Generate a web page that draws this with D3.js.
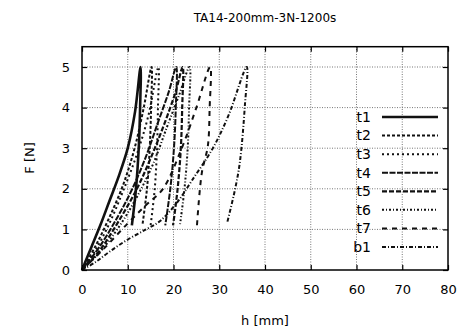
<!DOCTYPE html>
<html>
<head>
<meta charset="utf-8">
<script src="https://cdn.jsdelivr.net/npm/d3@7"></script>
<style>
  html, body { margin: 0; padding: 0; background: #fff; }
  svg { display: block; }
  text { font-family: "DejaVu Sans", "Liberation Sans", sans-serif; fill: #000; }
</style>
</head>
<body>
<svg id="chart" width="461" height="329"></svg>
<script>
// Load/unload cycles: each series is a list of [h (mm), F (N)] points
const seriesNames = ["t1", "t2", "t3", "t4", "t5", "t6", "t7", "b1"];

const t1 = [[0,0],[2,0.55],[4,1.1],[6,1.7],[8,2.3],[10,3.0],[11.6,3.9],[12.8,5.0],[12.7,4.0],[12.4,3.0],[11.8,2.0],[10.9,1.1]];
const t2 = [[0,0],[3,0.6],[6,1.3],[9,2.1],[11.5,3.0],[13.5,4.0],[15.2,5.0],[15.1,4.0],[14.8,3.0],[14.2,2.0],[13.2,1.1]];
const t3 = [[0,0],[3,0.5],[6,1.15],[9,1.95],[12,2.85],[14.5,3.8],[16.7,5.0],[16.6,4.0],[16.4,3.0],[15.9,2.0],[15.0,1.1]];
const t4 = [[0,0],[4,0.6],[8,1.35],[11,2.0],[14,2.8],[16.5,3.6],[19,4.4],[20.6,5.0],[20.5,4.0],[20.1,3.0],[19.3,2.0],[18.2,1.1]];
const t5 = [[0,0],[4,0.5],[8,1.2],[12,2.0],[15,2.75],[18,3.6],[20.5,4.4],[22.0,5.0],[21.9,4.0],[21.6,3.0],[20.9,2.0],[19.9,1.1]];
const t6 = [[0,0],[4,0.45],[8,1.05],[12,1.8],[15.5,2.6],[18.5,3.5],[21.2,4.3],[23.5,5.0],[23.4,4.0],[23.1,3.0],[22.4,2.0],[21.4,1.1]];
const t7 = [[0,0],[5,0.55],[10,1.15],[14,1.6],[17.7,2.0],[21.8,3.0],[25,4.0],[28.0,5.0],[27.9,4.0],[27.5,3.05],[26.2,2.4],[25.1,1.05]];
const b1 = [[0,0],[3,0.2],[6,0.45],[10,0.75],[14,1.0],[17,1.2],[20.7,1.65],[24,2.2],[28.6,3.0],[32,3.8],[36.0,5.0],[35.6,4.05],[34.5,2.65],[33.4,1.96],[31.7,1.15]];

const seriesData = [t1, t2, t3, t4, t5, t6, t7, b1];

// Stroke pattern per series (solid, dashes, dots, dash-dots)
const dashPatterns = ["", "3,2", "2,3", "6,1.5", "5,2", "2,2,1,2", "5,5", "4,2,1,2"];
const strokeWidths = [2.6, 2, 2, 2, 2.2, 2, 2, 2];

const xTicks = [0, 10, 20, 30, 40, 50, 60, 70, 80];
const yTicks = [0, 1, 2, 3, 4, 5];

const titleText = "TA14-200mm-3N-1200s";
const xLabel = "h [mm]";
const yLabel = "F [N]";

const svg = d3.select("#chart");
const plotLeft = 82, plotRight = 448, plotTop = 46.7, plotBottom = 270;

const x = d3.scaleLinear().domain([0, 80]).range([plotLeft, plotRight]);
const y = d3.scaleLinear().domain([0, 5.5]).range([plotBottom, plotTop]);

// Grid
const grid = svg.append("g").attr("stroke", "#777").attr("stroke-width", 1).attr("stroke-dasharray", "1,1.5");
grid.selectAll("line.gx").data(xTicks.slice(1, -1)).join("line")
  .attr("x1", d => x(d)).attr("x2", d => x(d)).attr("y1", plotBottom).attr("y2", plotTop);
grid.selectAll("line.gy").data(yTicks.slice(1)).join("line")
  .attr("x1", plotLeft).attr("x2", plotRight).attr("y1", d => y(d)).attr("y2", d => y(d));

// Axes with inward ticks on all four sides
const tickLen = 5;
const fmt = d3.format("d");
svg.append("g").attr("transform", `translate(0,${plotBottom})`)
  .call(d3.axisBottom(x).tickValues(xTicks).tickFormat(fmt).tickSizeInner(-tickLen).tickSizeOuter(0).tickPadding(15))
  .call(g => g.select(".domain").remove());
svg.append("g").attr("transform", `translate(0,${plotTop})`)
  .call(d3.axisTop(x).tickValues(xTicks).tickSizeInner(-tickLen).tickSizeOuter(0).tickFormat(""))
  .call(g => g.select(".domain").remove());
svg.append("g").attr("transform", `translate(${plotLeft},0)`)
  .call(d3.axisLeft(y).tickValues(yTicks).tickFormat(fmt).tickSizeInner(-tickLen).tickSizeOuter(0).tickPadding(12))
  .call(g => g.select(".domain").remove());
svg.append("g").attr("transform", `translate(${plotRight},0)`)
  .call(d3.axisRight(y).tickValues(yTicks).tickSizeInner(-tickLen).tickSizeOuter(0).tickFormat(""))
  .call(g => g.select(".domain").remove());

svg.selectAll(".tick line").attr("stroke", "#000").attr("stroke-width", 1.2);
svg.selectAll(".tick text").attr("font-size", 13).attr("font-family", "DejaVu Sans, sans-serif");

// Series
const line = d3.line().curve(d3.curveCatmullRom.alpha(0.5)).x(d => x(d[0])).y(d => y(d[1]));
svg.append("g").selectAll("path").data(seriesData).join("path")
  .attr("d", line)
  .attr("fill", "none")
  .attr("stroke", "#111")
  .attr("stroke-width", (d, i) => strokeWidths[i])
  .attr("stroke-dasharray", (d, i) => dashPatterns[i] || null)
  .attr("stroke-linejoin", "round");

// Frame
svg.append("rect").attr("x", plotLeft).attr("y", plotTop).attr("width", plotRight - plotLeft).attr("height", plotBottom - plotTop)
  .attr("fill", "none").attr("stroke", "#000").attr("stroke-width", 1.5);

// Legend
const legend = svg.append("g");
const legY = d3.scalePoint().domain(seriesNames).range([117, 247]);
seriesNames.forEach((name, i) => {
  const yy = legY(name);
  legend.append("text").attr("x", 371).attr("y", yy).attr("dy", "0.35em")
    .attr("text-anchor", "end").attr("font-size", 14).text(name);
  legend.append("line").attr("x1", 382).attr("x2", 438).attr("y1", yy).attr("y2", yy)
    .attr("stroke", "#111").attr("stroke-width", strokeWidths[i])
    .attr("stroke-dasharray", dashPatterns[i] || null);
});

// Titles
svg.append("text").attr("x", 265).attr("y", 22).attr("text-anchor", "middle")
  .attr("font-size", 12).text(titleText);
svg.append("text").attr("x", 265).attr("y", 325).attr("text-anchor", "middle")
  .attr("font-size", 13).text(xLabel);
svg.append("text").attr("transform", "translate(34,158) rotate(-90)").attr("text-anchor", "middle")
  .attr("font-size", 13).text(yLabel);
</script>
</body>
</html>
